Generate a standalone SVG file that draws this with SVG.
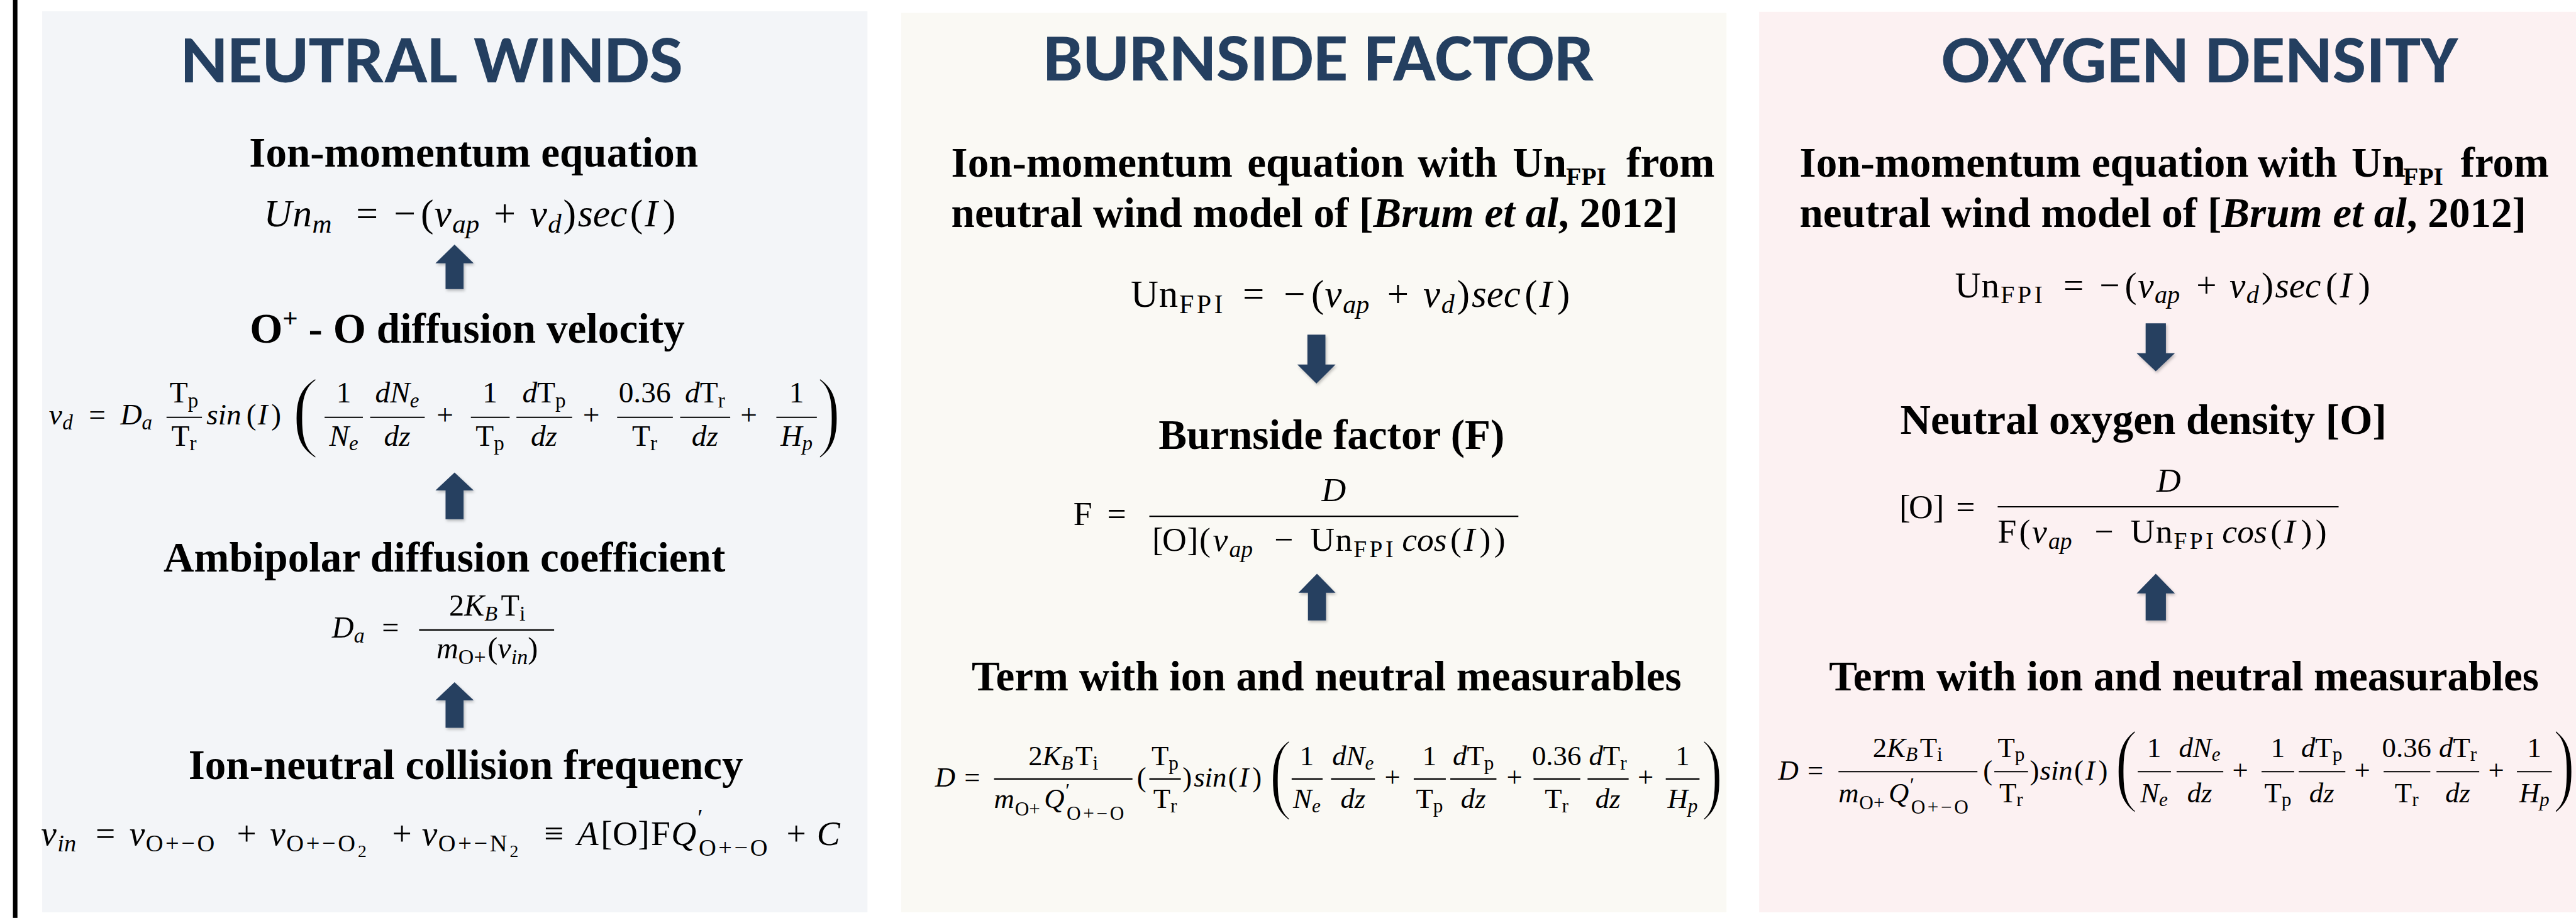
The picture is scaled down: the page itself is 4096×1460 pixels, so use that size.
<svg xmlns="http://www.w3.org/2000/svg" width="4096" height="1460" viewBox="0 0 4096 1460">
<style>
.m{font-family:'Liberation Serif','Times New Roman',serif;fill:#000}
.i{font-style:italic}
.f{letter-spacing:5px}
.o{letter-spacing:4px}
.bar{stroke:#000;stroke-width:2.4}
.h{font-family:'Liberation Serif','Times New Roman',serif;font-weight:bold;font-size:75px;fill:#000}
.t{font-family:'Carlito','Lato','Open Sans',sans-serif;font-weight:bold;font-size:120px;fill:#243f60}
.arr{fill:#253f61;filter:url(#sh)}
.bp1{stroke:#f3f5f8;stroke-width:4}
.bp2{stroke:#faf9f4;stroke-width:4}
.bp3{stroke:#fcf1f2;stroke-width:4}
</style>
<defs>
<filter id="sh" x="-30%" y="-30%" width="160%" height="160%">
<feDropShadow dx="2" dy="3" stdDeviation="2.5" flood-color="#000" flood-opacity="0.25"/>
</filter>
</defs>
<rect width="4096" height="1460" fill="#fff"/>
<g transform="scale(0.89452)">
<rect x="23" y="0" width="8" height="1632" fill="#000"/>

<g id="panel-neutral-winds">
<rect x="75" y="20" width="1467" height="1602" fill="#f3f5f8"/>
<text class="t" x="321" y="146" textLength="893" lengthAdjust="spacingAndGlyphs">NEUTRAL WINDS</text>
<text class="h" x="842" y="296" text-anchor="middle">Ion-momentum equation</text>
<text class="m" font-size="69" y="402"><tspan x="469" class="i">U</tspan><tspan x="520" class="i">n</tspan><tspan x="555" y="414" class="i" font-size="48">m</tspan><tspan x="633" y="402">=</tspan><tspan x="700">−</tspan><tspan x="748">(</tspan><tspan x="772" class="i">v</tspan><tspan x="804" y="414" class="i" font-size="48">ap</tspan><tspan x="878" y="402">+</tspan><tspan x="942" class="i">v</tspan><tspan x="974" y="414" class="i" font-size="48">d</tspan><tspan x="1001" y="402">)</tspan><tspan x="1027" class="i">sec</tspan><tspan x="1120">(</tspan><tspan x="1146" class="i">I</tspan><tspan x="1178">)</tspan></text>

<text class="h" x="444" y="609">O<tspan font-size="48" dy="-28">+</tspan><tspan dy="28"> - O diffusion velocity</tspan></text>
<g class="m" font-size="53">
<text y="755"><tspan x="87" class="i">v</tspan><tspan x="111" y="764" class="i" font-size="37">d</tspan><tspan x="158" y="755">=</tspan><tspan x="214" class="i">D</tspan><tspan x="252" y="764" class="i" font-size="37">a</tspan><tspan x="367" y="755" class="i">sin</tspan><tspan x="438">(</tspan><tspan x="458" class="i">I</tspan><tspan x="482">)</tspan><tspan x="776">+</tspan><tspan x="1036">+</tspan><tspan x="1316">+</tspan></text>
<text x="327" y="716" text-anchor="middle">T<tspan font-size="37" dy="8">p</tspan></text>
<text x="327" y="793" text-anchor="middle">T<tspan font-size="37" dy="8">r</tspan></text>
<text x="611" y="716" text-anchor="middle">1</text>
<text x="611" y="793" text-anchor="middle"><tspan class="i">N</tspan><tspan class="i" font-size="37" dy="8">e</tspan></text>
<text x="706" y="716" text-anchor="middle"><tspan class="i">dN</tspan><tspan class="i" font-size="37" dy="8">e</tspan></text>
<text x="706" y="793" text-anchor="middle" class="i">dz</text>
<text x="871" y="716" text-anchor="middle">1</text>
<text x="871" y="793" text-anchor="middle">T<tspan font-size="37" dy="8">p</tspan></text>
<text x="967" y="716" text-anchor="middle"><tspan class="i">d</tspan>T<tspan font-size="37" dy="8">p</tspan></text>
<text x="967" y="793" text-anchor="middle" class="i">dz</text>
<text x="1146" y="716" text-anchor="middle">0.36</text>
<text x="1146" y="793" text-anchor="middle">T<tspan font-size="37" dy="8">r</tspan></text>
<text x="1253" y="716" text-anchor="middle"><tspan class="i">d</tspan>T<tspan font-size="37" dy="8">r</tspan></text>
<text x="1253" y="793" text-anchor="middle" class="i">dz</text>
<text x="1416" y="716" text-anchor="middle">1</text>
<text x="1416" y="793" text-anchor="middle"><tspan class="i">H</tspan><tspan class="i" font-size="37" dy="8">p</tspan></text>
<text class="bp1" transform="translate(519,783) scale(0.9,1)" font-size="160">(</text>
<text class="bp1" transform="translate(1452,783) scale(0.8,1)" font-size="160">)</text>
</g>
<g class="bar">
<line x1="296" y1="742" x2="359" y2="742"/><line x1="577" y1="742" x2="645" y2="742"/><line x1="658" y1="742" x2="755" y2="742"/><line x1="837" y1="742" x2="906" y2="742"/><line x1="918" y1="742" x2="1017" y2="742"/><line x1="1097" y1="742" x2="1196" y2="742"/><line x1="1209" y1="742" x2="1298" y2="742"/><line x1="1380" y1="742" x2="1452" y2="742"/>
</g>

<text class="h" x="790" y="1016" text-anchor="middle">Ambipolar diffusion coefficient</text>
<g class="m" font-size="54">
<text y="1134"><tspan x="590" class="i">D</tspan><tspan x="629" y="1143" class="i" font-size="38">a</tspan><tspan x="679" y="1134">=</tspan></text>
<text x="866" y="1094" text-anchor="middle">2<tspan class="i">K</tspan><tspan class="i" font-size="38" dy="9">B</tspan><tspan dx="6" dy="-9">T</tspan><tspan font-size="38" dy="9">i</tspan></text>
<text x="866" y="1171" text-anchor="middle"><tspan class="i">m</tspan><tspan font-size="38" dy="9">O+</tspan><tspan dx="3" dy="-9">(</tspan><tspan class="i">v</tspan><tspan class="i" font-size="38" dy="9">in</tspan><tspan dy="-9">)</tspan></text>
</g>
<line class="bar" x1="745" y1="1120" x2="985" y2="1120"/>

<text class="h" x="828" y="1385" text-anchor="middle">Ion-neutral collision frequency</text>
<text class="m" font-size="62" y="1503"><tspan x="73" class="i">v</tspan><tspan x="102" y="1514" class="i" font-size="43">in</tspan><tspan x="170" y="1503">=</tspan><tspan x="230" class="i">v</tspan><tspan x="259" y="1514" font-size="43" class="o">O+−O</tspan><tspan x="421" y="1503">+</tspan><tspan x="480" class="i">v</tspan><tspan x="509" y="1514" font-size="43" class="o">O+−O</tspan><tspan x="636" y="1524" font-size="31">2</tspan><tspan x="697" y="1503">+</tspan><tspan x="750" class="i">v</tspan><tspan x="779" y="1514" font-size="43" class="o">O+−N</tspan><tspan x="906" y="1524" font-size="31">2</tspan><tspan x="967" y="1503">≡</tspan><tspan x="1026" class="i">A</tspan><tspan x="1068">[</tspan><tspan x="1089">O</tspan><tspan x="1134">]</tspan><tspan x="1157">F</tspan><tspan x="1193" class="i">Q</tspan><tspan x="1240" y="1468" font-size="43">′</tspan><tspan x="1242" y="1521" font-size="43" class="o">O+−O</tspan><tspan x="1398" y="1503">+</tspan><tspan x="1452" class="i">C</tspan></text>
</g>

<g id="panel-burnside-factor">
<rect x="1602" y="23" width="1467" height="1599" fill="#faf9f4"/>
<text class="t" x="1854" y="143" textLength="980" lengthAdjust="spacingAndGlyphs">BURNSIDE FACTOR</text>
<text class="h" y="314"><tspan x="1691">Ion-momentum</tspan><tspan x="2217">equation</tspan><tspan x="2520">with</tspan><tspan x="2689">Un</tspan><tspan x="2784" y="329" font-size="44">FPI</tspan><tspan x="2891" y="314">from</tspan></text>
<text class="h" x="1691" y="404">neutral wind model of [<tspan font-style="italic">Brum et al</tspan>, 2012]</text>
<text class="m" font-size="68" y="546"><tspan x="2010">U</tspan><tspan x="2060">n</tspan><tspan x="2096" y="557" font-size="47" class="f">FPI</tspan><tspan x="2209" y="546">=</tspan><tspan x="2282">−</tspan><tspan x="2331">(</tspan><tspan x="2355" class="i">v</tspan><tspan x="2387" y="557" class="i" font-size="47">ap</tspan><tspan x="2466" y="546">+</tspan><tspan x="2530" class="i">v</tspan><tspan x="2562" y="557" class="i" font-size="47">d</tspan><tspan x="2590" y="546">)</tspan><tspan x="2616" class="i">sec</tspan><tspan x="2710">(</tspan><tspan x="2736" class="i">I</tspan><tspan x="2768">)</tspan></text>
<text class="h" x="2367" y="798" text-anchor="middle">Burnside factor (F)</text>
<g class="m" font-size="60">
<text y="933"><tspan x="1908">F</tspan><tspan x="1968">=</tspan></text>
<text x="2371" y="891" text-anchor="middle" class="i">D</text>
<text y="979"><tspan x="2048">[</tspan><tspan x="2066">O</tspan><tspan x="2110">]</tspan><tspan x="2132">(</tspan><tspan x="2156" class="i">v</tspan><tspan x="2185" y="990" class="i" font-size="42">ap</tspan><tspan x="2265" y="979">−</tspan><tspan x="2329">U</tspan><tspan x="2374">n</tspan><tspan x="2406" y="990" font-size="42" class="f">FPI</tspan><tspan x="2492" y="979" class="i">cos</tspan><tspan x="2578">(</tspan><tspan x="2602" class="i">I</tspan><tspan x="2630">)</tspan><tspan x="2656">)</tspan></text>
</g>
<line class="bar" x1="2043" y1="918" x2="2699" y2="918"/>
<text class="h" x="2358" y="1227" text-anchor="middle">Term with ion and neutral measurables</text>
<g class="m" font-size="50">
<text y="1398"><tspan x="1662" class="i">D</tspan><tspan x="1714">=</tspan><tspan x="2021">(</tspan><tspan x="2102">)</tspan><tspan x="2122" class="i">sin</tspan><tspan x="2183">(</tspan><tspan x="2203" class="i">I</tspan><tspan x="2226">)</tspan><tspan x="2461">+</tspan><tspan x="2678">+</tspan><tspan x="2911">+</tspan></text>
<text x="1890" y="1361" text-anchor="middle">2<tspan class="i">K</tspan><tspan class="i" font-size="35" dy="7">B</tspan><tspan dx="4" dy="-7">T</tspan><tspan font-size="35" dy="7">i</tspan></text>
<text y="1437"><tspan x="1767" class="i">m</tspan><tspan x="1804" y="1450" font-size="35">O+</tspan><tspan x="1856" y="1437" class="i">Q</tspan><tspan x="1894" y="1418" font-size="35">′</tspan><tspan x="1896" y="1458" font-size="35" class="o">O+−O</tspan></text>
<text x="2071" y="1361" text-anchor="middle">T<tspan font-size="35" dy="7">p</tspan></text>
<text x="2071" y="1437" text-anchor="middle">T<tspan font-size="35" dy="7">r</tspan></text>
<text x="2323" y="1361" text-anchor="middle">1</text>
<text x="2323" y="1437" text-anchor="middle"><tspan class="i">N</tspan><tspan class="i" font-size="35" dy="7">e</tspan></text>
<text x="2405" y="1361" text-anchor="middle"><tspan class="i">dN</tspan><tspan class="i" font-size="35" dy="7">e</tspan></text>
<text x="2405" y="1437" text-anchor="middle" class="i">dz</text>
<text x="2541" y="1361" text-anchor="middle">1</text>
<text x="2541" y="1437" text-anchor="middle">T<tspan font-size="35" dy="7">p</tspan></text>
<text x="2619" y="1361" text-anchor="middle"><tspan class="i">d</tspan>T<tspan font-size="35" dy="7">p</tspan></text>
<text x="2619" y="1437" text-anchor="middle" class="i">dz</text>
<text x="2767" y="1361" text-anchor="middle">0.36</text>
<text x="2767" y="1437" text-anchor="middle">T<tspan font-size="35" dy="7">r</tspan></text>
<text x="2858" y="1361" text-anchor="middle"><tspan class="i">d</tspan>T<tspan font-size="35" dy="7">r</tspan></text>
<text x="2858" y="1437" text-anchor="middle" class="i">dz</text>
<text x="2991" y="1361" text-anchor="middle">1</text>
<text x="2991" y="1437" text-anchor="middle"><tspan class="i">H</tspan><tspan class="i" font-size="35" dy="7">p</tspan></text>
<text class="bp2" transform="translate(2256,1426) scale(0.75,1)" font-size="162">(</text>
<text class="bp2" transform="translate(3024,1426) scale(0.72,1)" font-size="162">)</text>
</g>
<g class="bar">
<line x1="1767" y1="1385" x2="2013" y2="1385"/><line x1="2043" y1="1385" x2="2099" y2="1385"/><line x1="2296" y1="1385" x2="2351" y2="1385"/><line x1="2366" y1="1385" x2="2444" y2="1385"/><line x1="2513" y1="1385" x2="2570" y2="1385"/><line x1="2578" y1="1385" x2="2660" y2="1385"/><line x1="2726" y1="1385" x2="2809" y2="1385"/><line x1="2822" y1="1385" x2="2895" y2="1385"/><line x1="2961" y1="1385" x2="3021" y2="1385"/>
</g>
</g>

<g id="panel-oxygen-density">
<rect x="3127" y="21" width="1452" height="1601" fill="#fcf1f2"/>
<text class="t" x="3451" y="146" textLength="918" lengthAdjust="spacingAndGlyphs">OXYGEN DENSITY</text>
<text class="h" y="314"><tspan x="3199">Ion-momentum</tspan><tspan x="3718">equation</tspan><tspan x="4013">with</tspan><tspan x="4180">Un</tspan><tspan x="4272" y="329" font-size="44">FPI</tspan><tspan x="4374" y="314">from</tspan></text>
<text class="h" x="3199" y="404">neutral wind model of [<tspan font-style="italic">Brum et al</tspan>, 2012]</text>
<text class="m" font-size="64" y="529"><tspan x="3475">U</tspan><tspan x="3522">n</tspan><tspan x="3556" y="539" font-size="45" class="f">FPI</tspan><tspan x="3668" y="529">=</tspan><tspan x="3732">−</tspan><tspan x="3777">(</tspan><tspan x="3800" class="i">v</tspan><tspan x="3830" y="539" class="i" font-size="45">ap</tspan><tspan x="3904" y="529">+</tspan><tspan x="3963" class="i">v</tspan><tspan x="3993" y="539" class="i" font-size="45">d</tspan><tspan x="4020" y="529">)</tspan><tspan x="4044" class="i">sec</tspan><tspan x="4134">(</tspan><tspan x="4159" class="i">I</tspan><tspan x="4192">)</tspan></text>
<text class="h" x="3810" y="771" text-anchor="middle">Neutral oxygen density [O]</text>
<g class="m" font-size="60">
<text y="921"><tspan x="3376">[</tspan><tspan x="3393">O</tspan><tspan x="3436">]</tspan><tspan x="3477">=</tspan></text>
<text x="3855" y="874" text-anchor="middle" class="i">D</text>
<text y="965"><tspan x="3551">F</tspan><tspan x="3589">(</tspan><tspan x="3612" class="i">v</tspan><tspan x="3641" y="976" class="i" font-size="42">ap</tspan><tspan x="3723" y="965">−</tspan><tspan x="3787">U</tspan><tspan x="3832">n</tspan><tspan x="3864" y="976" font-size="42" class="f">FPI</tspan><tspan x="3950" y="965" class="i">cos</tspan><tspan x="4036">(</tspan><tspan x="4060" class="i">I</tspan><tspan x="4090">)</tspan><tspan x="4116">)</tspan></text>
</g>
<line class="bar" x1="3551" y1="901" x2="4157" y2="901"/>
<text class="h" x="3882" y="1227" text-anchor="middle">Term with ion and neutral measurables</text>
<g class="m" font-size="50">
<text y="1386"><tspan x="3161" class="i">D</tspan><tspan x="3213">=</tspan><tspan x="3525">(</tspan><tspan x="3608">)</tspan><tspan x="3626" class="i">sin</tspan><tspan x="3687">(</tspan><tspan x="3707" class="i">I</tspan><tspan x="3730">)</tspan><tspan x="3968">+</tspan><tspan x="4185">+</tspan><tspan x="4423">+</tspan></text>
<text x="3391" y="1346" text-anchor="middle">2<tspan class="i">K</tspan><tspan class="i" font-size="35" dy="7">B</tspan><tspan dx="4" dy="-7">T</tspan><tspan font-size="35" dy="7">i</tspan></text>
<text y="1426"><tspan x="3268" class="i">m</tspan><tspan x="3305" y="1439" font-size="35">O+</tspan><tspan x="3357" y="1426" class="i">Q</tspan><tspan x="3395" y="1407" font-size="35">′</tspan><tspan x="3397" y="1447" font-size="35" class="o">O+−O</tspan></text>
<text x="3575" y="1346" text-anchor="middle">T<tspan font-size="35" dy="7">p</tspan></text>
<text x="3575" y="1426" text-anchor="middle">T<tspan font-size="35" dy="7">r</tspan></text>
<text x="3829" y="1346" text-anchor="middle">1</text>
<text x="3829" y="1426" text-anchor="middle"><tspan class="i">N</tspan><tspan class="i" font-size="35" dy="7">e</tspan></text>
<text x="3910" y="1346" text-anchor="middle"><tspan class="i">dN</tspan><tspan class="i" font-size="35" dy="7">e</tspan></text>
<text x="3910" y="1426" text-anchor="middle" class="i">dz</text>
<text x="4049" y="1346" text-anchor="middle">1</text>
<text x="4049" y="1426" text-anchor="middle">T<tspan font-size="35" dy="7">p</tspan></text>
<text x="4127" y="1346" text-anchor="middle"><tspan class="i">d</tspan>T<tspan font-size="35" dy="7">p</tspan></text>
<text x="4127" y="1426" text-anchor="middle" class="i">dz</text>
<text x="4278" y="1346" text-anchor="middle">0.36</text>
<text x="4278" y="1426" text-anchor="middle">T<tspan font-size="35" dy="7">r</tspan></text>
<text x="4369" y="1346" text-anchor="middle"><tspan class="i">d</tspan>T<tspan font-size="35" dy="7">r</tspan></text>
<text x="4369" y="1426" text-anchor="middle" class="i">dz</text>
<text x="4505" y="1346" text-anchor="middle">1</text>
<text x="4505" y="1426" text-anchor="middle"><tspan class="i">H</tspan><tspan class="i" font-size="35" dy="7">p</tspan></text>
<text class="bp3" transform="translate(3759,1412) scale(0.75,1)" font-size="165">(</text>
<text class="bp3" transform="translate(4538,1412) scale(0.72,1)" font-size="165">)</text>
</g>
<g class="bar">
<line x1="3268" y1="1372" x2="3515" y2="1372"/><line x1="3545" y1="1372" x2="3605" y2="1372"/><line x1="3800" y1="1372" x2="3859" y2="1372"/><line x1="3869" y1="1372" x2="3952" y2="1372"/><line x1="4020" y1="1372" x2="4078" y2="1372"/><line x1="4086" y1="1372" x2="4169" y2="1372"/><line x1="4237" y1="1372" x2="4320" y2="1372"/><line x1="4331" y1="1372" x2="4407" y2="1372"/><line x1="4474" y1="1372" x2="4536" y2="1372"/>
</g>
</g>

<g id="connectors">
<path class="arr" d="M808,435 L842,468 L824,468 L824,514 L792,514 L792,468 L774,468 Z"/>
<path class="arr" d="M808,840 L842,872 L824,872 L824,923 L792,923 L792,872 L774,872 Z"/>
<path class="arr" d="M808,1213 L842,1245 L824,1245 L824,1294 L792,1294 L792,1245 L774,1245 Z"/>
<path class="arr" d="M2324,595 L2356,595 L2356,648 L2374,648 L2340,682 L2306,648 L2324,648 Z"/>
<path class="arr" d="M2341,1020 L2374,1054 L2357,1054 L2357,1103 L2325,1103 L2325,1054 L2308,1054 Z"/>
<path class="arr" d="M3814,575 L3850,575 L3850,628 L3866,628 L3832,660 L3798,628 L3814,628 Z"/>
<path class="arr" d="M3832,1020 L3866,1055 L3850,1055 L3850,1103 L3814,1103 L3814,1055 L3798,1055 Z"/>
</g>
</g>
</svg>
